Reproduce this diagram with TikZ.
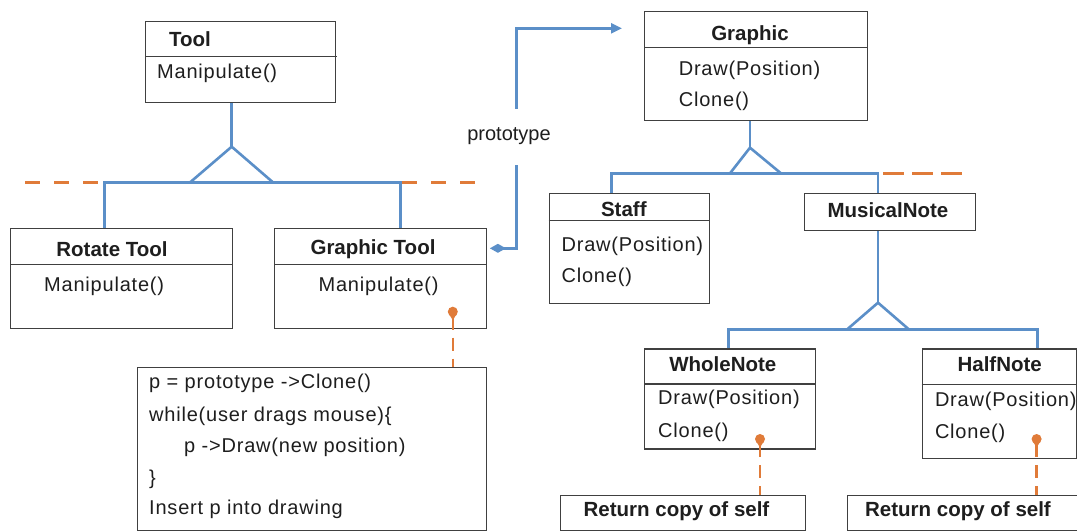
\documentclass[tikz,border=0pt]{standalone}
\usepackage{fontspec}
\setmainfont{Liberation Sans}
\newfontfamily\umlspaced[LetterSpace=4]{Liberation Sans}
\usetikzlibrary{arrows.meta}
\definecolor{umlblue}{HTML}{5B8FC8}
\definecolor{umlorange}{HTML}{E07B39}
\definecolor{umlgray}{HTML}{404040}
\definecolor{umltext}{HTML}{1E1E1E}
\begin{document}
\begin{tikzpicture}[x=1pt,y=-1pt,
  umlbox/.style={draw=umlgray, line width=1.4pt, rectangle, anchor=north west, inner sep=0pt},
  divider/.style={draw=umlgray, line width=1.4pt},
  ttl/.style={font=\fontsize{20.5}{23}\selectfont\bfseries, text=umltext, inner sep=0pt},
  mth/.style={font=\umlspaced\fontsize{20}{23}\selectfont, text=umltext, inner sep=0pt, anchor=west},
  blueline/.style={draw=umlblue, line width=2.6pt},
  orangedash/.style={draw=umlorange, line width=2.6pt, dash pattern=on 15pt off 14pt},
  notedash/.style={draw=umlorange, line width=2.4pt, dash pattern=on 13pt off 8pt},
  notedot/.style={circle, fill=umlorange, inner sep=0pt, minimum size=10pt},
]
\clip (0,0) rectangle (1077,531);
\fill[white] (0,0) rectangle (1077,531);

% ---------- boxes ----------
\node[umlbox, minimum width=190pt, minimum height=81pt] (tool) at (145,20.5) {};
\node[umlbox, minimum width=222pt, minimum height=100pt] (rtool) at (10,227.7) {};
\node[umlbox, minimum width=212pt, minimum height=100pt] (gtool) at (274,227.7) {};
\node[umlbox, minimum width=349pt, minimum height=163pt] (note) at (137,367) {};
\node[umlbox, minimum width=223pt, minimum height=109pt] (graphic) at (644,11) {};
\node[umlbox, minimum width=160.4pt, minimum height=110pt] (staff) at (548.6,192.7) {};
\node[umlbox, minimum width=170.7pt, minimum height=37pt] (mnote) at (803.8,192.7) {};
\node[umlbox, minimum width=170.8pt, minimum height=100pt] (whole) at (644,348.3) {};
\node[umlbox, minimum width=154.3pt, minimum height=109.4pt] (half) at (921.7,348.3) {};
\node[umlbox, minimum width=244.8pt, minimum height=35pt] (ret1) at (559.7,495) {};
\node[umlbox, minimum width=250pt, minimum height=35pt] (ret2) at (846.9,495) {};

% ---------- dividers ----------
\draw[divider] (tool.west |- 0,56.5) -- (337,56.5);
\draw[divider] (rtool.west |- 0,264.3) -- (rtool.east |- 0,264.3);
\draw[divider] (gtool.west |- 0,264.3) -- (gtool.east |- 0,264.3);
\draw[divider] (graphic.west |- 0,47.3) -- (graphic.east |- 0,47.3);
\draw[divider] (staff.west |- 0,220.5) -- (staff.east |- 0,220.5);
\draw[divider] (whole.west |- 0,384) -- (whole.east |- 0,384);
\draw[divider] (half.west |- 0,384.3) -- (half.east |- 0,384.3);

% ---------- texts ----------
\node[ttl] (tooltitle) at (190,39) {Tool};
\node[mth] (toolm) at (157,73) {Manipulate()};
\node[ttl] (rtooltitle) at (112,249) {Rotate Tool};
\node[mth] (rtoolm) at (44,286) {Manipulate()};
\node[ttl] (gtooltitle) at (373,249) {Graphic Tool};
\node[mth, anchor=center] (gtoolm) at (378.6,286) {Manipulate()};
\node[mth] (n1) at (149,383) {p = prototype ->Clone()};
\node[mth] (n2) at (149,416) {while(user drags mouse)\{};
\node[mth] (n3) at (184,447) {p ->Draw(new position)};
\node[mth] (n4) at (149,479) {\}};
\node[mth] (n5) at (149,509) {Insert p into drawing};
\node[ttl] (graphictitle) at (750,35) {Graphic};
\node[mth] (gm1) at (678.6,70) {Draw(Position)};
\node[mth] (gm2) at (678.6,101.7) {Clone()};
\node[ttl] (stafftitle) at (623.8,209) {Staff};
\node[mth] (sm1) at (561.4,246) {Draw(Position)};
\node[mth] (sm2) at (561.4,277) {Clone()};
\node[ttl] (mnotetitle) at (888,210) {MusicalNote};
\node[ttl] (wholetitle) at (722.8,364.3) {WholeNote};
\node[mth] (wm1) at (658,399) {Draw(Position)};
\node[mth] (wm2) at (658,432.3) {Clone()};
\node[ttl] (halftitle) at (999.7,364.3) {HalfNote};
\node[mth] (hm1) at (934.8,401.7) {Draw(Position)};
\node[mth] (hm2) at (934.8,433.3) {Clone()};
\node[ttl] (ret1t) at (676.5,510.7) {Return copy of self};
\node[ttl] (ret2t) at (958,510.7) {Return copy of self};

% ---------- orange dashed separators ----------
\draw[orangedash] (25,182.7) -- (475,182.7);
\draw[orangedash, dash pattern=on 21pt off 8pt] (883,173.7) -- (963.4,173.7);

% ---------- inheritance: Tool ----------
\coordinate (a1) at (231.7,146.7);
\coordinate (j1) at (104.5,182.7);
\coordinate (j2) at (400.7,182.7);
\draw[blueline] (tool.south -| a1) -- (a1);
\draw[blueline, line join=miter] (189.7,182.7) -- (a1) -- (273.4,182.7);
\draw[blueline, line join=miter] (rtool.north -| j1) -- (j1) -- (j2) -- (gtool.north -| j2);

% ---------- inheritance: Graphic ----------
\coordinate (a2) at (750,147.7);
\coordinate (j3) at (611.4,173.7);
\coordinate (j4) at (878,173.7);
\draw[blueline] (graphic.south -| a2) -- (a2);
\draw[blueline, line join=miter] (729.7,173.7) -- (a2) -- (781.4,173.7);
\draw[blueline, line join=miter] (staff.north -| j3) -- (j3) -- (j4) -- (mnote.north -| j4);

% ---------- inheritance: MusicalNote ----------
\coordinate (a3) at (878,302.7);
\coordinate (j5) at (728.6,329.5);
\coordinate (j6) at (1037.6,329.5);
\draw[blueline] (mnote.south -| a3) -- (a3);
\draw[blueline, line join=miter] (847,329.5) -- (a3) -- (909,329.5);
\draw[blueline, line join=miter] (whole.north -| j5) -- (j5) -- (j6) -- (half.north -| j6);

% ---------- prototype association ----------
\coordinate (pr1) at (516.5,248.3);
\coordinate (pr2) at (516.5,28.3);
\draw[blueline, line join=miter, {Diamond[length=16pt,width=9pt]}-{Triangle[length=11pt,width=10pt]},
      shorten <=2.5pt, shorten >=22pt]
  (gtool.east |- pr1) -- (pr1) -- (pr2) -- (graphic.west |- pr2);
\node[fill=white, minimum height=56pt, inner xsep=1pt, font=\fontsize{20}{23}\selectfont, text=umltext] (proto) at (509,136.5) {prototype};

% ---------- note attachments ----------
\coordinate (d1) at (452.8,311.7);
\coordinate (d2) at (760,439);
\coordinate (d3) at (1036.6,439);
\draw[notedash] (d1) ++(0,5) -- (note.north -| d1);
\draw[notedash] (d2) ++(0,5) -- (ret1.north -| d2);
\draw[notedash] (d3) ++(0,5) -- (ret2.north -| d3);
\foreach \d in {d1,d2,d3}{
  \node[notedot] at (\d) {};
  \fill[umlorange] (\d) ++(-4,2) -- ++(4,6.5) -- ++(4,-6.5) -- cycle;
}
\end{tikzpicture}
\end{document}
